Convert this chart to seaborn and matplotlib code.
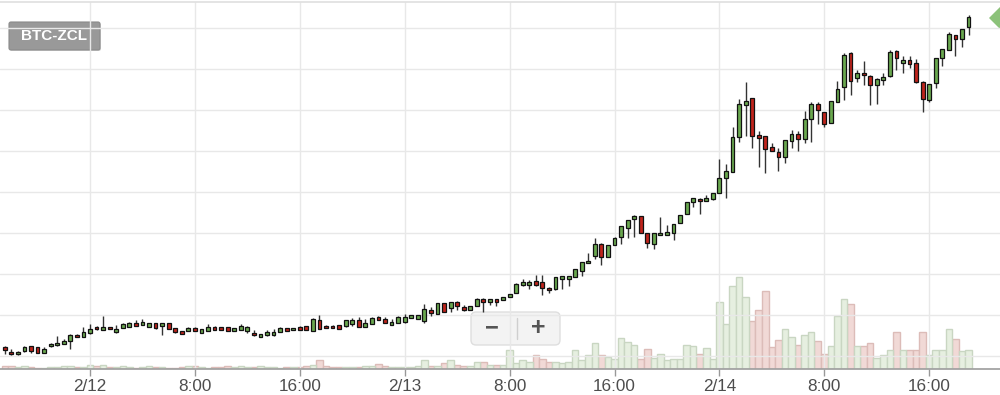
import numpy as np
import pandas as pd
import matplotlib
matplotlib.use("Agg")
import matplotlib.pyplot as plt
import matplotlib.transforms as mtransforms
from matplotlib.patches import FancyBboxPatch, Polygon
from matplotlib.lines import Line2D
import seaborn as sns

# BTC-ZCL, 30 minute candles starting 2/11 17:30 (prices in 1e-5 BTC)
start = "2018-02-11 17:30"

opens = [33, 28, 26, 29, 34, 33, 27, 34, 35, 36, 39, 45, 43,
         47, 53, 50, 53, 48, 52, 53, 57, 55, 53, 57, 54, 57, 52, 49, 49, 52, 47, 49, 53, 53, 53, 49, 50, 49,
         47, 43, 45, 45, 48, 52, 50, 53, 54, 49, 60, 54, 54,
         55, 54, 56, 60, 53, 56, 63, 61, 55, 57, 58, 62, 61, 59, 70, 66, 77, 72, 78, 73, 70, 74, 81, 78, 81, 80,
         83, 87, 95, 95, 99, 98, 92, 91, 101, 101, 103, 109, 117, 124, 136, 123, 135, 143, 152, 161, 164, 147,
         136, 145, 145, 147, 157, 166, 178, 181, 179, 181,
         187, 202, 208, 243, 275, 282, 245, 244, 233, 228, 223, 239, 246, 241, 261, 276, 268, 257, 278, 293,
         327, 302, 307, 304, 295, 300, 304, 329, 317, 320, 317, 298, 280, 297, 322, 330, 345, 341, 353]
highs = [34, 31, 29, 34, 34, 33, 33, 37, 44, 41, 46, 46, 53,
         56, 54, 64, 53, 55, 57, 58, 60, 61, 57, 57, 57, 57, 52, 49, 53, 53, 51, 56, 54, 53, 53, 52, 56, 54,
         50, 46, 50, 51, 53, 52, 52, 54, 54, 62, 65, 55, 55,
         55, 60, 62, 63, 61, 63, 64, 63, 61, 64, 66, 65, 65, 76, 73, 77, 77, 78, 79, 75, 74, 82, 82, 81, 81, 83,
         86, 97, 101, 100, 105, 105, 93, 103, 104, 104, 111, 118, 127, 142, 137, 135, 143, 154, 160, 165, 164, 147,
         147, 163, 155, 156, 165, 178, 182, 182, 185, 187,
         221, 216, 253, 281, 298, 282, 249, 244, 237, 232, 240, 250, 249, 269, 278, 278, 268, 279, 299, 327,
         328, 310, 319, 305, 302, 307, 330, 330, 324, 324, 321, 299, 296, 322, 331, 348, 345, 351, 365]
lows = [26, 25, 25, 28, 27, 27, 27, 33, 34, 36, 31, 43, 43,
        46, 50, 50, 51, 47, 52, 53, 54, 55, 53, 51, 45, 51, 47, 46, 49, 49, 47, 49, 50, 50, 49, 49, 50, 47,
        44, 43, 44, 44, 48, 49, 50, 50, 50, 49, 51, 52, 52,
        51, 53, 54, 53, 53, 56, 60, 57, 55, 57, 57, 62, 61, 57, 64, 66, 68, 68, 70, 69, 70, 74, 68, 75, 74, 80,
        83, 87, 94, 91, 94, 85, 87, 90, 91, 94, 103, 104, 117, 121, 115, 123, 135, 136, 142, 143, 147, 132,
        131, 145, 145, 140, 157, 166, 173, 166, 179, 180,
        187, 182, 208, 238, 244, 232, 213, 207, 229, 209, 217, 232, 229, 237, 238, 256, 253, 257, 278, 280,
        285, 298, 295, 275, 276, 295, 303, 310, 307, 312, 297, 268, 278, 292, 314, 330, 324, 333, 345]
closes = [30, 26, 28, 33, 29, 27, 31, 36, 37, 39, 45, 43, 48,
          51, 51, 53, 51, 51, 56, 57, 54, 58, 57, 52, 57, 51, 48, 46, 52, 49, 51, 53, 50, 50, 49, 52, 54, 53,
          45, 46, 48, 48, 52, 49, 52, 50, 50, 61, 51, 52, 52,
          51, 60, 60, 53, 57, 62, 60, 57, 58, 63, 63, 65, 65, 71, 67, 77, 68, 78, 74, 70, 74, 81, 78, 81, 78, 83,
          86, 96, 98, 98, 95, 92, 90, 103, 104, 104, 111, 118, 119, 136, 123, 135, 142, 154, 160, 164, 147, 137,
          147, 147, 148, 156, 165, 178, 182, 179, 182, 187,
          202, 209, 243, 276, 279, 244, 242, 231, 229, 223, 240, 246, 241, 261, 276, 270, 256, 279, 291, 325,
          299, 307, 305, 295, 301, 303, 328, 322, 320, 316, 298, 281, 296, 322, 331, 346, 341, 351, 363]
volumes = [3, 3, 2, 3, 2, 1, 1, 2, 2, 3, 3, 2, 2,
           4, 3, 4, 2, 2, 3, 2, 1, 2, 3, 2, 2, 1, 1, 2, 3, 3, 2, 1, 2, 2, 3, 2, 3, 2,
           2, 3, 2, 2, 1, 2, 2, 2, 3, 4, 9, 3, 2,
           2, 2, 2, 2, 3, 3, 5, 3, 2, 2, 2, 2, 3, 9, 3, 3, 6, 9, 4, 3, 3, 7, 7, 4, 4, 4,
           19, 6, 9, 7, 14, 10, 7, 7, 6, 7, 19, 9, 14, 26, 14, 12, 10, 31, 27, 24, 10, 20,
           11, 15, 9, 10, 10, 24, 23, 15, 21, 10,
           67, 45, 83, 92, 72, 48, 59, 78, 22, 29, 40, 32, 24, 34, 37, 28, 15, 23, 53, 70,
           65, 23, 23, 26, 11, 14, 19, 37, 19, 19, 19, 37, 14, 19, 19, 40, 30, 18, 19]

df = pd.DataFrame({"open": opens, "high": highs, "low": lows, "close": closes, "volume": volumes})
df["time"] = pd.date_range(start, periods=len(df), freq="30min")
df["i"] = np.arange(len(df))
df["up"] = df["close"] >= df["open"]

sns.set_theme(style="whitegrid")
plt.rcParams["font.family"] = ["Liberation Sans", "DejaVu Sans"]

fig = plt.figure(figsize=(10, 3.95), dpi=100)
ax = fig.add_axes([0, 26 / 395, 1, 367 / 395])
axv = ax.twinx()

# volume on its own scale, drawn behind the candles
sns.barplot(data=df, x="i", y="volume", hue="up", palette={True: "#e5f1de", False: "#f5d6d2"},
            native_scale=True, dodge=False, width=1.0, errorbar=None, legend=False,
            linewidth=1.0, ax=axv)
for p in axv.patches:
    fc = p.get_facecolor()
    p.set_edgecolor("#c9d6c2" if fc[1] > fc[0] else "#dcbcb8")
axv.set_ylim(0, 367)
axv.grid(False)
axv.set_yticks([])
axv.set_ylabel("")
axv.set_xlabel("")
for s in axv.spines.values():
    s.set_visible(False)

ax.set_zorder(axv.get_zorder() + 1)
ax.patch.set_visible(False)

up_col, down_col = "#6aa84f", "#c0241c"
body_lo = np.minimum(df["open"], df["close"])
body_h = np.maximum(np.abs(df["close"] - df["open"]), 2)
ax.vlines(df["i"], df["low"], df["high"], color="#333333", lw=1.0, zorder=2)
ax.bar(df["i"], body_h, bottom=body_lo, width=0.58,
       color=np.where(df["up"], up_col, down_col), edgecolor="#111111", linewidth=0.9, zorder=3)

ax.set_xlim(-0.73, 151.8)
ax.set_ylim(11, 378)
ax.set_yticks(np.arange(24, 360, 41))
ax.tick_params(axis="y", left=False, right=False, labelleft=False)

tick_rows = df[(df["time"].dt.minute == 0) & (df["time"].dt.hour % 8 == 0)]
tick_labels = [f"{t.month}/{t.day}" if t.hour == 0 else f"{t.hour}:00" for t in tick_rows["time"]]
ax.set_xticks(tick_rows["i"], tick_labels)
ax.tick_params(axis="x", bottom=True, length=5, width=1, color="#999999",
               labelsize=12.3, labelcolor="#4d4d4d", pad=2)
ax.grid(True, color="#e8e8e8", lw=1)
for side in ["left", "right"]:
    ax.spines[side].set_visible(False)
ax.spines["bottom"].set_color("#a0a0a0")
ax.spines["top"].set_color("#e0e0e0")
ax.set_xlabel("")
ax.set_ylabel("")

# overlays in pixel coordinates
px = mtransforms.IdentityTransform()
H = 395

fig.add_artist(FancyBboxPatch((10, H - 51), 91, 28, boxstyle="round,pad=0,rounding_size=2",
                              fc="#d9d9d9", ec="none", transform=px))
fig.add_artist(FancyBboxPatch((9, H - 50), 91, 28, boxstyle="round,pad=0,rounding_size=2",
                              fc="#999999", ec="#8a8a8a", lw=0.8, transform=px))
fig.text(54.5, H - 36, "BTC-ZCL", transform=px, color="white", fontsize=11,
         fontweight="bold", ha="center", va="center")

fig.add_artist(Polygon([(989, H - 18), (1001, H - 6), (1013, H - 18), (1001, H - 30)],
                       closed=True, fc="#8cc27a", ec="none", transform=px))

fig.add_artist(FancyBboxPatch((471, H - 345), 89, 33, boxstyle="round,pad=0,rounding_size=5",
                              fc="#f3f3f3", ec="#dedede", lw=1, transform=px))
fig.add_artist(Line2D([517, 517], [H - 339, H - 318], color="#cfcfcf", lw=1, transform=px))
fig.text(492, H - 328, "\u2212", transform=px, color="#555555", fontsize=17,
         fontweight="bold", ha="center", va="center")
fig.text(538, H - 328, "+", transform=px, color="#555555", fontsize=18,
         fontweight="bold", ha="center", va="center")

fig.savefig("out.png", dpi=100)
